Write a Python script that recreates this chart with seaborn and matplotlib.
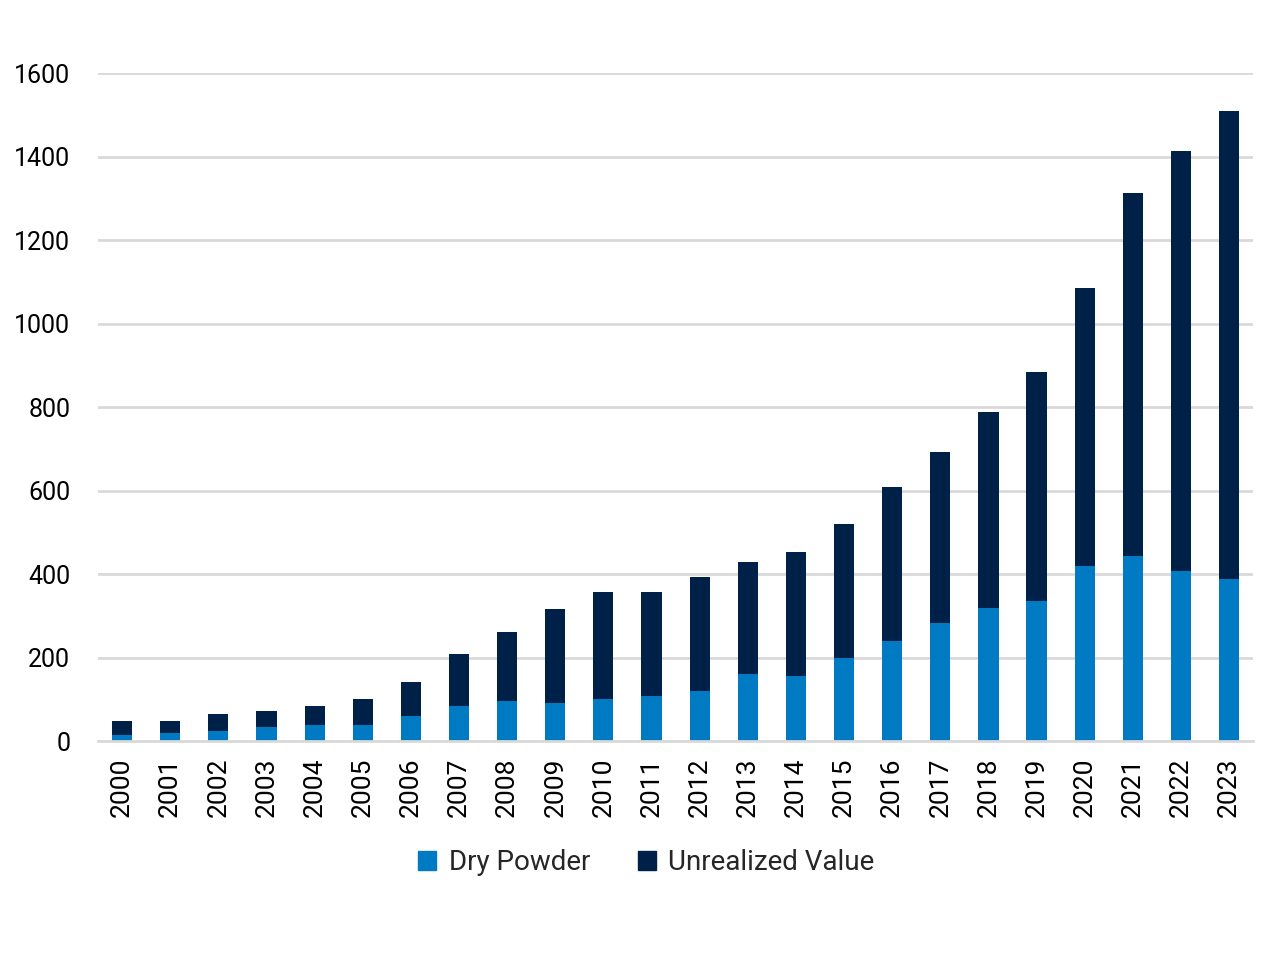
import matplotlib
matplotlib.use("Agg")
import matplotlib.pyplot as plt
from matplotlib.patches import Patch
from matplotlib.ticker import FixedLocator
import seaborn as sns
import pandas as pd
import numpy as np

years = [str(y) for y in range(2000, 2024)]
dry_powder = [14, 19, 24, 34, 38, 38, 60, 84, 96, 91, 101, 108, 120, 160, 156, 199,
              240, 283, 319, 335, 419, 443, 407, 388]
unrealized = [34, 29, 41, 38, 46, 63, 81, 124, 165, 225, 256, 249, 273, 269, 297, 321,
              368, 409, 469, 549, 666, 870, 1006, 1121]

total = [d + u for d, u in zip(dry_powder, unrealized)]
df = pd.DataFrame({"year": years, "dry": dry_powder, "total": total})

sns.set_theme(style="white")
plt.rcParams["font.family"] = ["Roboto", "DejaVu Sans"]

c_dry = "#007AC3"
c_unr = "#002147"

fig = plt.figure(figsize=(12.8, 9.66), dpi=100)
ax = fig.add_axes([0.0766, 0.2329, 0.9024, 0.6915])

sns.barplot(data=df, x="year", y="total", color=c_unr, width=0.42, ax=ax,
            saturation=1, zorder=3, linewidth=0)
sns.barplot(data=df, x="year", y="dry", color=c_dry, width=0.42, ax=ax,
            saturation=1, zorder=3, linewidth=0)

ax.set_ylim(0, 1600)
ax.set_xlim(-0.5, len(years) - 0.5)
ax.set_yticks(np.arange(0, 1601, 200))
ax.yaxis.grid(True, color="#d9d9d9", linewidth=2, zorder=0)
ax.set_axisbelow(True)
for s in ["top", "right", "left"]:
    ax.spines[s].set_visible(False)
ax.spines["bottom"].set_color("#d9d9d9")
ax.spines["bottom"].set_linewidth(2)
ax.spines["bottom"].set_zorder(4)

ax.set_xlabel("")
ax.set_ylabel("")
ax.tick_params(axis="y", length=0, labelsize=18, pad=20, colors="black")
ax.tick_params(axis="x", which="major", length=0, labelsize=19, pad=12,
               labelrotation=90, colors="black")
ax.xaxis.set_minor_locator(FixedLocator(np.arange(-0.5, len(years), 1)))
ax.tick_params(axis="x", which="minor", length=9, width=2, color="#d9d9d9",
               direction="out")

handles = [Patch(color=c_dry, label="Dry Powder"),
           Patch(color=c_unr, label="Unrealized Value")]
fig.legend(handles=handles, loc="center", bbox_to_anchor=(0.505, 0.107), ncol=2,
           frameon=False, fontsize=20, handlelength=0.65, handleheight=0.65,
           handletextpad=0.45, columnspacing=1.7)

fig.savefig("out.png", dpi=100)
